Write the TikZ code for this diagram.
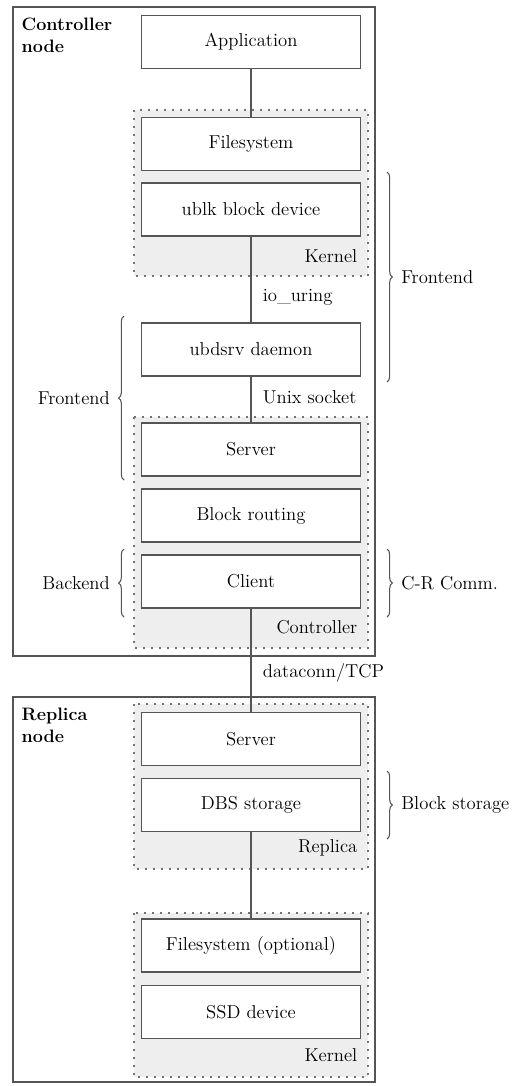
\documentclass[tikz,border=0pt]{standalone}
\usepackage{tikz}
\usetikzlibrary{decorations.pathreplacing,calc}
\definecolor{linegray}{RGB}{85,85,85}
\definecolor{regionfill}{RGB}{238,238,238}
\definecolor{dotgray}{RGB}{115,115,115}

\begin{document}
\begin{tikzpicture}[x=0.75pt,y=-0.75pt,font=\fontsize{14}{16.5}\selectfont,
  layerbox/.style={draw=linegray,line width=1.2pt,fill=white,minimum width=164pt,minimum height=40pt,inner sep=0pt},
  region/.style={draw=dotgray,fill=regionfill,line width=1.5pt,dash pattern=on 1.5pt off 4.5pt},
  hostbox/.style={draw=linegray,line width=1.2pt},
  conn/.style={draw=linegray,line width=1.2pt},
  grp/.style={decorate,decoration={brace,amplitude=4pt},draw=linegray,line width=0.8pt}]
\useasboundingbox (0,0) rectangle (527,1086);
%host boxes
\draw[hostbox] (13,7) rectangle (375,656);
\draw[hostbox] (13,697) rectangle (375,1082);
\node[anchor=north west,align=left,font=\fontsize{13.5}{16.5}\selectfont\bfseries] (ctrlnode) at (17,13) {Controller\\node};
\node[anchor=north west,align=left,font=\fontsize{13.5}{16.5}\selectfont\bfseries] (repnode) at (17,703) {Replica\\node};
%dotted regions
\draw[region] (134,110) rectangle (368,276);
\draw[region] (134,417) rectangle (368,648);
\draw[region] (134,704) rectangle (368,869);
\draw[region] (134,913) rectangle (368,1077);
\node[anchor=east] (kern1) at (362,256) {Kernel};
\node[anchor=east] (ctrl) at (362,627) {Controller};
\node[anchor=east] (repl) at (362,848) {Replica};
\node[anchor=east] (kern2) at (362,1055) {Kernel};
%layers
\node[layerbox] (app) at (251,42) {Application};
\node[layerbox] (fs) at (251,144) {Filesystem};
\node[layerbox] (ublk) at (251,209.5) {ublk block device};
\node[layerbox] (ubdsrv) at (251,349.5) {ubdsrv daemon};
\node[layerbox] (cserver) at (251,449.5) {Server};
\node[layerbox] (routing) at (251,515.5) {Block routing};
\node[layerbox] (client) at (251,581.5) {Client};
\node[layerbox] (rserver) at (251,739) {Server};
\node[layerbox] (dbs) at (251,805) {DBS storage};
\node[layerbox] (fsopt) at (251,945.5) {Filesystem (optional)};
\node[layerbox] (ssd) at (251,1012) {SSD device};
%connections
\draw[conn] (app) -- (fs);
\draw[conn] (ublk) -- (ubdsrv) node[midway,right=5pt,yshift=-13pt] {io\_uring};
\draw[conn] (ubdsrv) -- (cserver) node[midway,right=5pt,yshift=2pt] {Unix socket};
\draw[conn] (client) -- (rserver) node[pos=0.62,right=5pt] {dataconn/TCP};
\draw[conn] (dbs) -- (fsopt);
%braces
\draw[grp] (387,172) -- (387,382) node[midway,right=7pt] {Frontend};
\draw[grp] (124,480) -- (124,316) node[midway,left=7pt] {Frontend};
\draw[grp] (124,617) -- (124,549) node[midway,left=7pt] {Backend};
\draw[grp] (387,549) -- (387,617) node[midway,right=7pt] {C-R Comm.};
\draw[grp] (387,771) -- (387,839) node[midway,right=7pt] {Block storage};
\end{tikzpicture}
\end{document}
